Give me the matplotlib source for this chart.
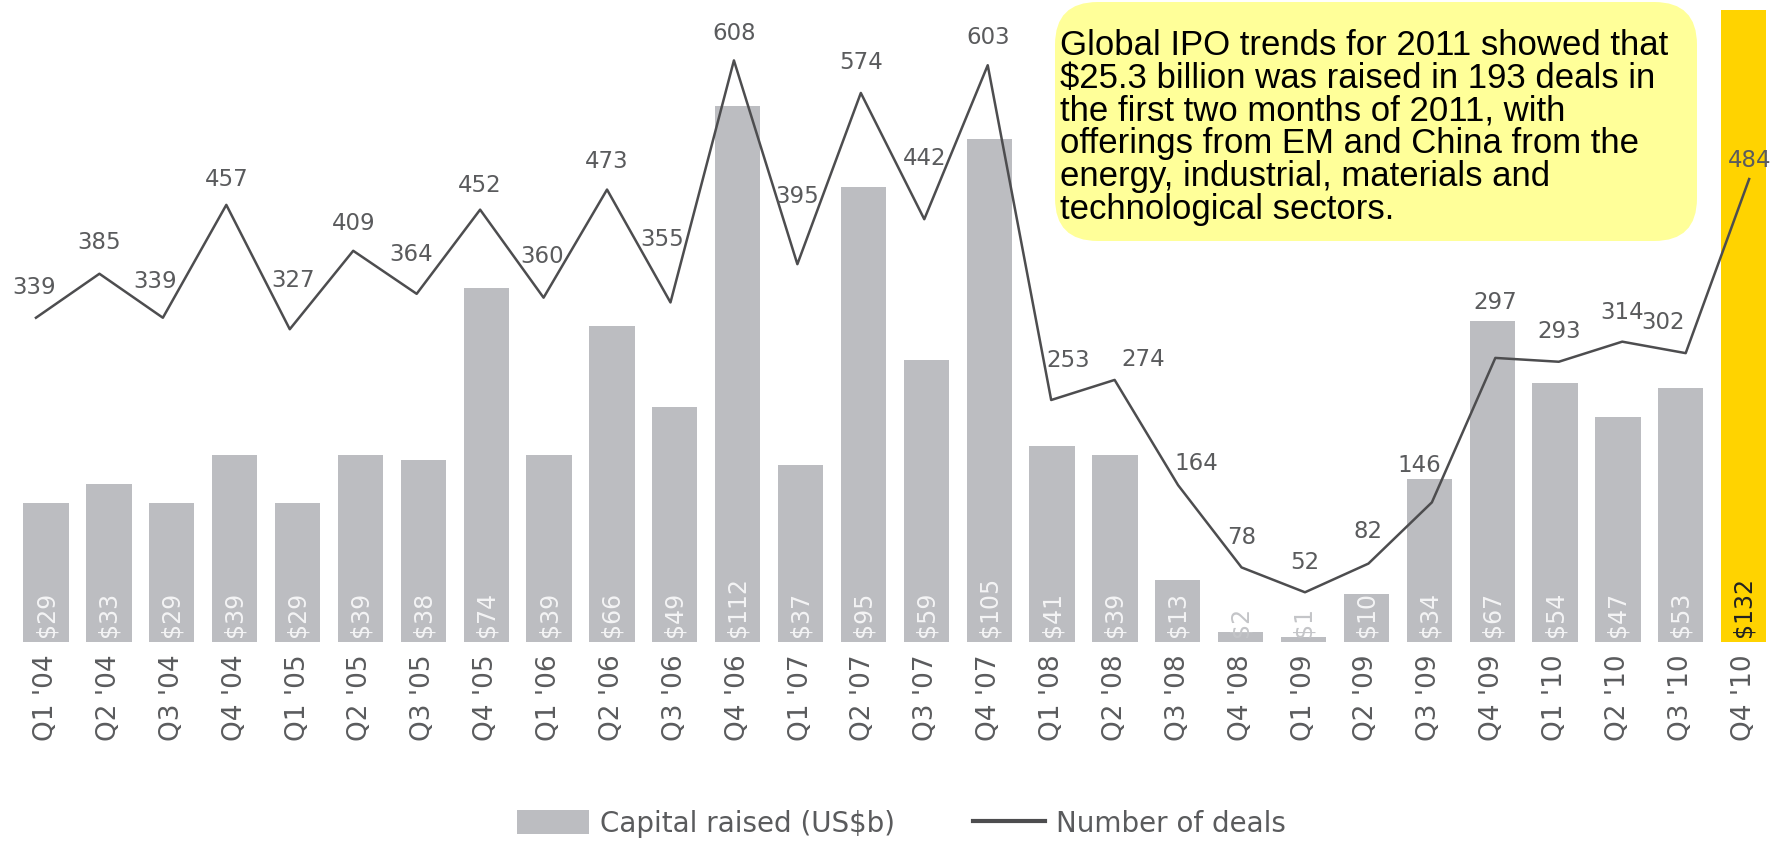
import matplotlib
matplotlib.use("Agg")
import matplotlib.pyplot as plt
from matplotlib.patches import FancyBboxPatch, Patch
from matplotlib.lines import Line2D

quarters = ["Q1 '04", "Q2 '04", "Q3 '04", "Q4 '04",
            "Q1 '05", "Q2 '05", "Q3 '05", "Q4 '05",
            "Q1 '06", "Q2 '06", "Q3 '06", "Q4 '06",
            "Q1 '07", "Q2 '07", "Q3 '07", "Q4 '07",
            "Q1 '08", "Q2 '08", "Q3 '08", "Q4 '08",
            "Q1 '09", "Q2 '09", "Q3 '09", "Q4 '09",
            "Q1 '10", "Q2 '10", "Q3 '10", "Q4 '10"]
capital = [29, 33, 29, 39, 29, 39, 38, 74, 39, 66, 49, 112, 37, 95,
           59, 105, 41, 39, 13, 2, 1, 10, 34, 67, 54, 47, 53, 132]
deals = [339, 385, 339, 457, 327, 409, 364, 452, 360, 473, 355, 608, 395, 574,
         442, 603, 253, 274, 164, 78, 52, 82, 146, 297, 293, 314, 302, 484]
note = ("Global IPO trends for 2011 showed that\n"
        "$25.3 billion was raised in 193 deals in\n"
        "the first two months of 2011, with\n"
        "offerings from EM and China from the\n"
        "energy, industrial, materials and\n"
        "technological sectors.")

# label nudges for the deal numbers (pixels), default is straight above
label_nudge = {0: (-2, 30), 1: (0, 31), 2: (-8, 36), 3: (0, 25), 4: (3, 49),
               5: (0, 27), 6: (-6, 39), 7: (0, 24), 8: (-1, 41), 9: (0, 28),
               10: (-8, 63), 11: (0, 27), 12: (0, 68), 13: (0, 30), 14: (0, 61),
               15: (0, 28), 16: (17, 40), 17: (29, 20), 18: (18, 22),
               19: (0, 30), 20: (0, 30), 21: (0, 32), 22: (-13, 37),
               23: (0, 55), 24: (0, 30), 25: (0, 29), 26: (-23, 31), 27: (0, 19)}

bar_grey = '#bcbdc1'
gold = '#ffd300'
text_grey = '#5a5b5d'

fig = plt.figure(figsize=(17.78, 8.42), dpi=100)
rect = [0.0082, 0.2375, 0.9902, 0.7506]
ax = fig.add_axes(rect)
x = list(range(len(quarters)))
colors = [bar_grey] * (len(quarters) - 1) + [gold]
ax.bar(x, capital, width=0.72, color=colors, zorder=1)
ax.set_xlim(-0.5, len(quarters) - 0.5)
ax.set_ylim(0, 132)
ax.set_xticks(x)
ax.set_xticklabels(quarters, rotation=90, fontsize=19, color=text_grey)
ax.tick_params(axis='x', length=0, pad=9)
ax.set_yticks([])
for s in ax.spines.values():
    s.set_visible(False)

for i, v in enumerate(capital):
    if i == len(capital) - 1:
        c = '#222222'
    elif v < 5:
        c = '#c4c5c8'
    else:
        c = '#f4f4f5'
    ax.annotate(f"${v}", (i, 0), xytext=(0, 5), textcoords='offset pixels',
                rotation=90, ha='center', va='bottom', fontsize=17, color=c)

# line sits on a slightly different horizontal scale in the original
ax2 = fig.add_axes(rect, frameon=False)
ax2.plot(x, deals, color='#4d4d4f', lw=1.8)
ax2.set_xlim(-0.337, 27.41)
ax2.set_ylim(0, 660.7)
ax2.set_xticks([])
ax2.set_yticks([])
for i, v in enumerate(deals):
    dx, dy = label_nudge.get(i, (0, 28))
    ax2.annotate(str(v), (i, v), xytext=(dx, dy), textcoords='offset pixels',
                 ha='center', va='center', fontsize=16.5, color=text_grey)

# yellow note box
W, H = 1778, 842
box = FancyBboxPatch((1055 / W, 1 - 241 / H), 642 / W, 239 / H,
                     boxstyle='round,pad=0,rounding_size=0.024',
                     mutation_aspect=W / H, transform=fig.transFigure,
                     facecolor='#ffff99', edgecolor='none', zorder=5)
fig.patches.append(box)
fig.text(1060 / W, 1 - 29 / H, note, ha='left', va='top', fontsize=25,
         family='Liberation Sans', linespacing=0.99, color='black', zorder=6)

handles = [Patch(facecolor=bar_grey, edgecolor='none'),
           Line2D([], [], color='#4d4d4f', lw=3)]
fig.legend(handles, ['Capital raised (US$b)', 'Number of deals'], ncol=2,
           loc='center', bbox_to_anchor=(0.507, 0.0214), frameon=False,
           fontsize=20, labelcolor=text_grey, handlelength=2.6,
           handleheight=0.95, handletextpad=0.4, columnspacing=2.8,
           borderpad=0)

fig.savefig('out.png', dpi=100)
